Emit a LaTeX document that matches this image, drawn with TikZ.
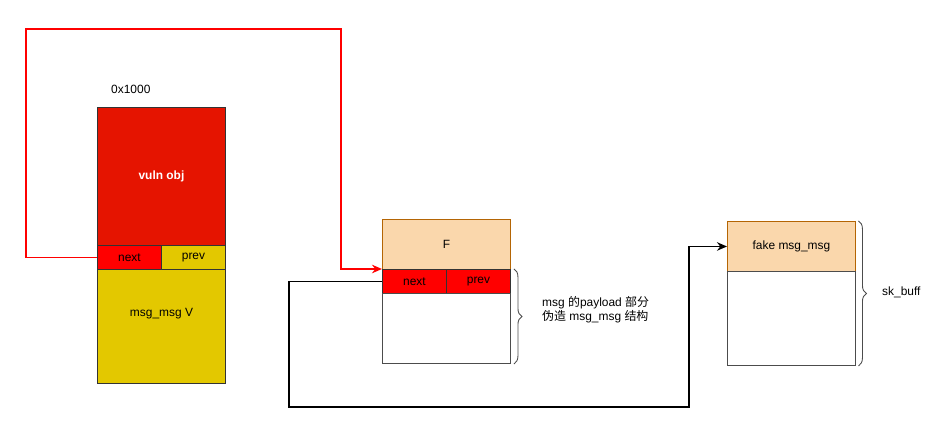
\documentclass[tikz,border=0pt]{standalone}
\usepackage{fontspec}
\setmainfont{Liberation Sans}
\newfontfamily\cjk{Noto Sans CJK SC}
\usetikzlibrary{arrows.meta,decorations.pathreplacing}
\definecolor{objred}{HTML}{E51400}
\definecolor{ptrred}{HTML}{FF0000}
\definecolor{msgyellow}{HTML}{E3C800}
\definecolor{fakefill}{HTML}{FAD7AC}
\definecolor{fakeline}{HTML}{B46504}

\begin{document}
\begin{tikzpicture}[>={Stealth[length=2mm,width=1.7mm]},x=0.02cm,y=-0.02cm,
  font=\fontsize{6.8}{8}\selectfont,
  cell/.style={draw=black!80,anchor=north west,inner sep=0pt,line width=0.55pt},
  ptr/.style={->,line width=1.1pt},
  brace/.style={draw=black!70,line width=0.5pt,decorate,decoration={brace,amplitude=0.16cm}}]
  \useasboundingbox (0,0) rectangle (939,438);

  % msg_msg V with the vuln obj on top
  \node[anchor=west] (addr) at (105,89) {0x1000};
  \node[cell,fill=objred,text=white,font=\fontsize{6.8}{8}\selectfont\bfseries,minimum width=2.56cm,minimum height=2.76cm] (vuln) at (97,107) {vuln obj};
  \node[cell,fill=ptrred,minimum width=1.28cm,minimum height=0.48cm] (vnext) at (97,245) {next};
  \node[cell,fill=msgyellow,minimum width=1.28cm,minimum height=0.48cm] (vprev) at (161,245) {prev};
  \node[cell,fill=msgyellow,text depth=0.56cm,minimum width=2.56cm,minimum height=2.28cm] (vmsg) at (97,269) {msg\_msg V};

  % F
  \node[cell,draw=fakeline,fill=fakefill,minimum width=2.56cm,minimum height=1cm] (fobj) at (382,219) {F};
  \node[cell,fill=ptrred,minimum width=1.28cm,minimum height=0.48cm] (fnext) at (382,269) {next};
  \node[cell,fill=ptrred,minimum width=1.28cm,minimum height=0.48cm] (fprev) at (446,269) {prev};
  \node[cell,draw=black!70,minimum width=2.56cm,minimum height=1.4cm] (fbody) at (382,293) {};
  \draw[brace] ([xshift=0.06cm]fnext.north -| fprev.east) -- ([xshift=0.06cm]fbody.south east);
  \node[anchor=west,align=left] (payload) at (536,310) {msg {\cjk 的}payload {\cjk 部分}\\{\cjk 伪造} msg\_msg {\cjk 结构}};

  % sk_buff
  \node[cell,draw=fakeline,fill=fakefill,minimum width=2.56cm,minimum height=1cm] (fake) at (727,221) {fake msg\_msg};
  \node[cell,draw=black!70,minimum width=2.56cm,minimum height=1.88cm] (skbody) at (727,271) {};
  \draw[brace] ([xshift=0.05cm]fake.north east) -- ([xshift=0.05cm]skbody.south east);
  \node[anchor=west] (skb) at (876,292) {sk\_buff};

  \draw[ptr,ptrred] (vnext.west) -- ++(-71,0) |- (341,29) |- (fnext.north west);
  \draw[ptr] (fnext.west) -- ++(-93,0) |- (689,407) |- (fake.west);
\end{tikzpicture}
\end{document}
